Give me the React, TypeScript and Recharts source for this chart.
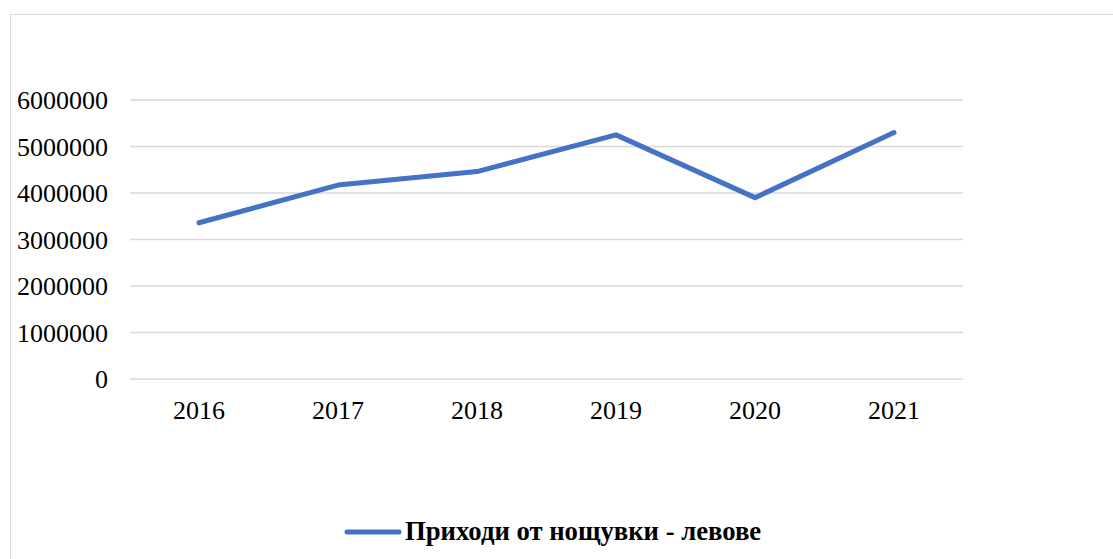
import { CartesianGrid, Line, LineChart, XAxis, YAxis } from 'recharts';

const years = ['2016', '2017', '2018', '2019', '2020', '2021'];
const revenue = [3360000, 4170000, 4460000, 5250000, 3900000, 5300000];
const yTicks = [0, 1000000, 2000000, 3000000, 4000000, 5000000, 6000000];
const seriesName = 'Приходи от нощувки - левове';

const data = years.map((year, i) => ({ year, value: revenue[i] }));

const font = '"Liberation Serif", "Times New Roman", serif';
const lineColor = '#4472c4';

export default function App() {
  return (
    <div style={{ position: 'fixed', left: 0, top: 0, width: 1113, height: 559, overflow: 'hidden', background: '#fff' }}>
      <div
        style={{
          position: 'absolute',
          left: 10,
          top: 14,
          width: 1200,
          height: 700,
          border: '1px solid #d9d9d9',
        }}
      />
      <div style={{ position: 'absolute', left: 0, top: 0 }}>
        <LineChart width={1113} height={559} data={data} margin={{ top: 100, right: 150, left: 0, bottom: 120 }}>
          <CartesianGrid vertical={false} stroke="#d9d9d9" strokeWidth={1.5} />
          <XAxis
            dataKey="year"
            height={60}
            padding={{ left: 69, right: 69 }}
            axisLine={false}
            tickLine={false}
            tickSize={0}
            tickMargin={22}
            tick={{ fontFamily: font, fontSize: 26, fill: '#000' }}
          />
          <YAxis
            width={130}
            domain={[0, 6000000]}
            ticks={yTicks}
            interval={0}
            axisLine={false}
            tickLine={false}
            tickSize={0}
            tickMargin={22}
            tick={{ fontFamily: font, fontSize: 26, fill: '#000' }}
          />
          <Line
            type="linear"
            dataKey="value"
            name={seriesName}
            stroke={lineColor}
            strokeWidth={5}
            strokeLinecap="round"
            strokeLinejoin="round"
            dot={false}
            activeDot={false}
            isAnimationActive={false}
          />
        </LineChart>
      </div>
      <div
        style={{
          position: 'absolute',
          left: 343,
          top: 516,
          display: 'flex',
          alignItems: 'center',
          fontFamily: font,
        }}
      >
        <svg width={60} height={10}>
          <line x1={4} y1={5} x2={56} y2={5} stroke={lineColor} strokeWidth={5} strokeLinecap="round" />
        </svg>
        <span style={{ fontWeight: 'bold', fontSize: 26.7, color: '#000', marginLeft: 2 }}>{seriesName}</span>
      </div>
    </div>
  );
}
